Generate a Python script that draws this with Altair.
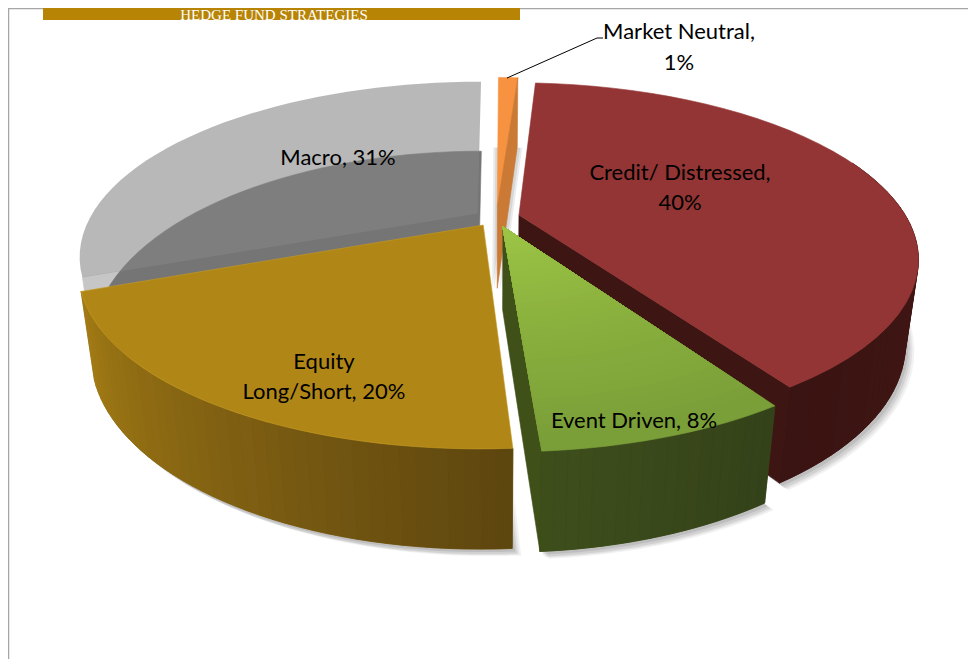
import math
import altair as alt
import pandas as pd

# ---- chart values ----
SLICES = ["Market Neutral", "Credit/ Distressed", "Event Driven", "Equity Long/Short", "Macro"]
SHARES = [1, 40, 8, 20, 31]
LABEL_LINES = [
    ["Market Neutral,", "1%"],
    ["Credit/ Distressed,", "40%"],
    ["Event Driven, 8%"],
    ["Equity", "Long/Short, 20%"],
    ["Macro, 31%"],
]
TITLE = "HEDGE FUND STRATEGIES"

# ---- drawing geometry (page pixels) ----
W, H = 960, 651
CX, CY, RX, RY, K, DROP, SHRINK = 495, 220, 389, 166.6, 0.243, 85, 0.03
# the 3-D view foreshortens the sweep, so each slice's two edges get a small angular correction
START_TRIM = [0.0, 0.0, -1.0, 0.0, 0.0]
END_TRIM = [0.0, -1.1, -0.7, 0.3, -0.3]
START = 0.3
EXPLODE = {0: (0.006, 0.08), 1: (0.062, 0.03), 2: (0.02, -0.04), 3: (-0.03, -0.03), 4: (-0.045, 0.04)}

_cum = [START]
for s in SHARES:
    _cum.append(_cum[-1] + s * 3.6)
T0 = [c + d for c, d in zip(_cum[:-1], START_TRIM)]
T1 = [c + d for c, d in zip(_cum[1:], END_TRIM)]
T0[3] = T1[2] + 0.3
T0[4] = T1[3]


def proj(i, t, r=1.0, z=0.0):
    ea, eb = EXPLODE[i]
    a = r * math.sin(math.radians(t)) + ea
    b = r * math.cos(math.radians(t)) + eb
    w = 1 + K * b + SHRINK * z
    return CX + RX * a / w, CY - RY * b / w + DROP * z / w


def arc(i, t0, t1, r=1.0, z=0.0, n=40):
    return [proj(i, t0 + (t1 - t0) * j / n, r, z) for j in range(n + 1)]


def sector(i, z=0.0):
    return [proj(i, 0, 0, z)] + arc(i, T0[i], T1[i], 1, z)


def mix(c0, c1, f):
    a = [int(c0[k:k + 2], 16) for k in (1, 3, 5)]
    b = [int(c1[k:k + 2], 16) for k in (1, 3, 5)]
    return "#%02x%02x%02x" % tuple(round(p + (q - p) * f) for p, q in zip(a, b))


rows = []
_count = [0]


def poly(pts, fill, op=1.0, stroke=None, shift=(0, 0)):
    pid = f"p{_count[0]:05d}"
    _count[0] += 1
    pts = list(pts) + [pts[0]]
    for q, (x, y) in enumerate(pts):
        rows.append(dict(id=pid, seq=q, x=x + shift[0], y=y + shift[1], fill=fill,
                         stroke=stroke or fill, op=op))


def wall(i, t0, t1, c0, c1, n=40):
    poly(arc(i, t0, t1) + arc(i, t1, t0, 1, 1), mix(c0, c1, 0.5))
    for j in range(n):
        a, b = t0 + (t1 - t0) * j / n, t0 + (t1 - t0) * (j + 1) / n
        c = mix(c0, c1, j / max(n - 1, 1))
        poly([proj(i, a), proj(i, b), proj(i, b, 1, 1), proj(i, a, 1, 1)], c)


def radial(i, t, color):
    poly([proj(i, 0, 0), proj(i, t), proj(i, t, 1, 1), proj(i, 0, 0, 1)], color)


# soft ground shadow: stacked translucent copies of the base outline
for off, al in [((9, 7), 0.07), ((7, 6), 0.09), ((5, 5), 0.12), ((3, 3), 0.15)]:
    for i in (1, 2, 3):
        poly(sector(i, 1), "#555555", al, "transparent", off)
for off, al in [(-5, 0.12), (-3, 0.14), (0, 0.18), (3, 0.14), (5, 0.12)]:
    poly(sector(0, 1), "#666666", al, "transparent", (off, 1))

# Macro: glassy top seen over its own darker base
poly([proj(4, 0, 0), proj(4, T0[4]), proj(4, T0[4], 1, 1), proj(4, 0, 0, 1)], "#c6c6c6")
poly(sector(4, 1), "#757575")
poly(sector(4), "#868686", 0.58, "transparent")

# Market Neutral
poly(sector(0), "#f69240")
poly([proj(0, T1[0]), proj(0, 0, 0), proj(0, 0, 0, 1), proj(0, T1[0], 1, 1)], "#cb7a35")

# Credit / Distressed
radial(1, T1[1], "#3d1513")
wall(1, 70, T1[1], "#451816", "#3a1412")
poly(sector(1), "#933534")

# Equity Long/Short
wall(3, T0[3], T1[3], "#5e460f", "#a47c15")
poly(sector(3), "#b08717", 1.0, "#c79a20")

# Event Driven
radial(2, T1[2], "#3f5019")
wall(2, T0[2], T1[2], "#34421a", "#3e4e1b", 20)
rings = 32
for k in range(rings, 0, -1):
    r = k / rings
    poly([proj(2, 0, 0)] + arc(2, T0[2], T1[2], r, 0, 20), mix("#9dc645", "#7a9e38", r))

shapes = pd.DataFrame(rows)

frame = pd.DataFrame([
    dict(seq=0, x=8.5, y=8 + H), dict(seq=1, x=8.5, y=8.5), dict(seq=2, x=8 + W, y=8.5),
])
leader = pd.DataFrame([dict(seq=0, x=507, y=78), dict(seq=1, x=597, y=38), dict(seq=2, x=603, y=38)])
band = pd.DataFrame([dict(x=43, x2=520, y=8, y2=20)])
title = pd.DataFrame([dict(x=274, y=14.5, t=TITLE)])

LABEL_POS = [[(679, 32), (679, 63)], [(680, 173), (680, 203)], [(634, 421)], [(324, 362), (324, 392)], [(338, 158)]]
labels = pd.DataFrame([
    dict(x=p[0], y=p[1], t=t)
    for lines_, ps in zip(LABEL_LINES, LABEL_POS) for t, p in zip(lines_, ps)
])

xs = alt.X("x:Q", scale=alt.Scale(domain=[8, 8 + W], range=[0, W]), axis=None)
ys = alt.Y("y:Q", scale=alt.Scale(domain=[8, 8 + H], range=[0, H]), axis=None)

frame_l = alt.Chart(frame).mark_line(color="#a6a6a6", strokeWidth=1.5).encode(xs, ys, order="seq:Q")
band_l = alt.Chart(band).mark_rect(color="#b88405").encode(xs, ys, x2="x2:Q", y2="y2:Q")
title_l = alt.Chart(title).mark_text(font="Liberation Serif", fontSize=15, color="#ffffff").encode(xs, ys, text="t:N")
shape_l = alt.Chart(shapes).mark_line(strokeWidth=0.6).encode(
    xs, ys, order="seq:Q", detail="id:N",
    fill=alt.Fill("fill:N", scale=None),
    stroke=alt.Stroke("stroke:N", scale=None),
    opacity=alt.Opacity("op:Q", scale=None),
)
leader_l = alt.Chart(leader).mark_line(color="#000000", strokeWidth=1).encode(xs, ys, order="seq:Q")
label_l = alt.Chart(labels).mark_text(font="Lato", fontSize=22, color="#000000").encode(xs, ys, text="t:N")

chart = alt.layer(frame_l, band_l, title_l, shape_l, leader_l, label_l).properties(
    width=W, height=H, padding=0, autosize=alt.AutoSizeParams(type="none"),
    background="#ffffff",
).configure_view(stroke=None)

chart.save("out.html", embed_options={"renderer": "svg", "actions": False})
